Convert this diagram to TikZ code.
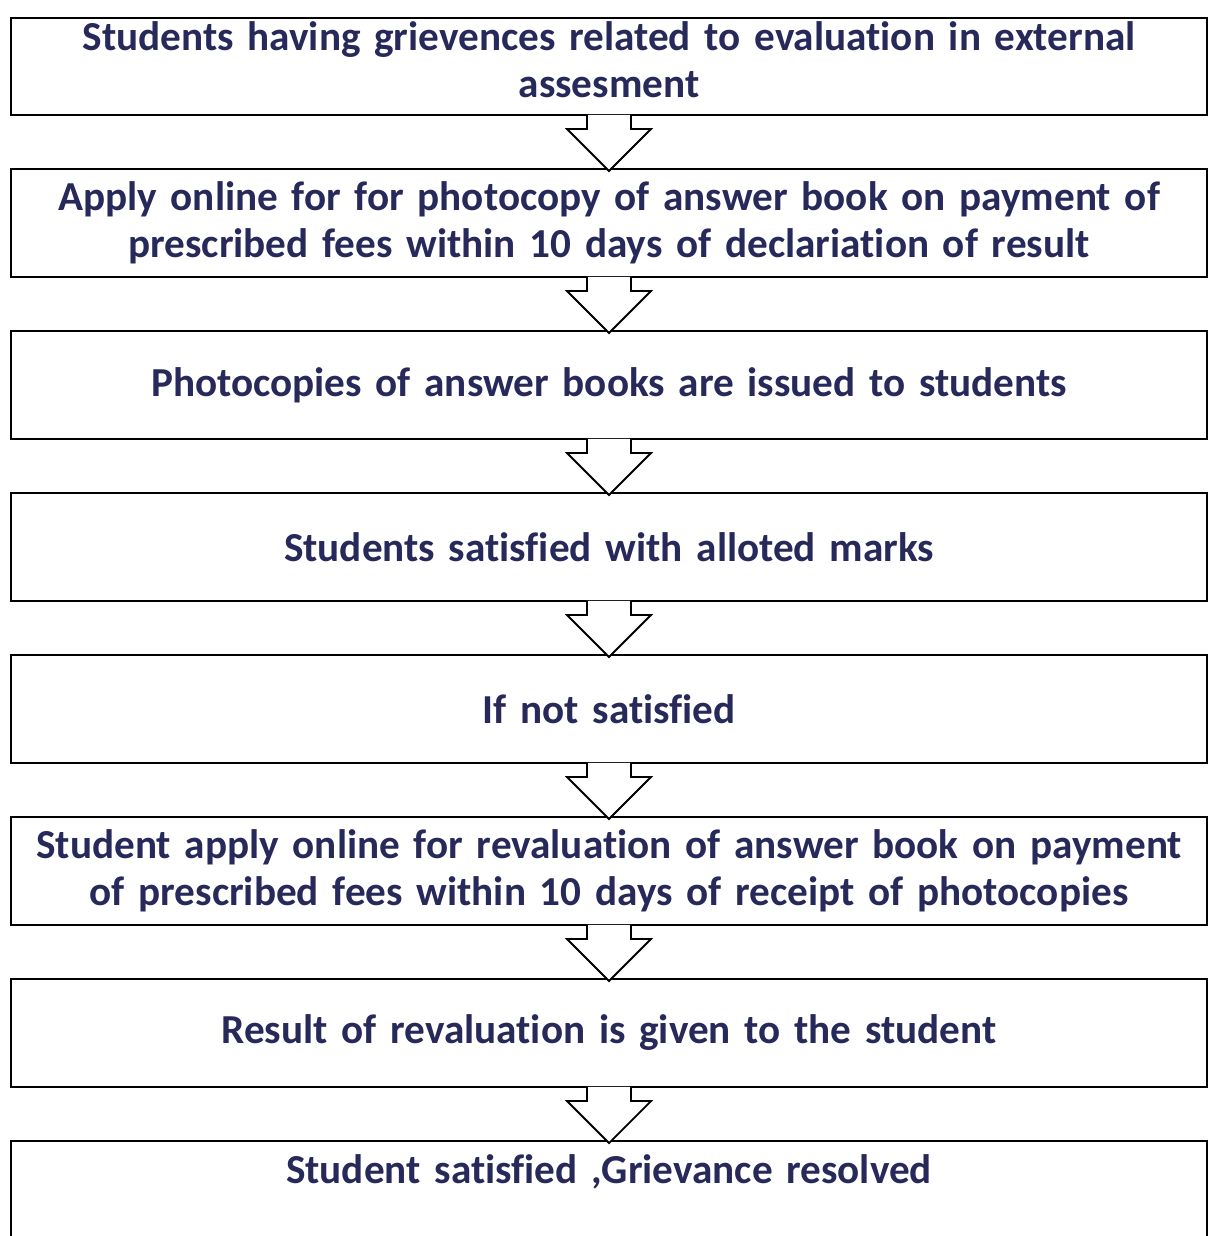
\documentclass[tikz,border=0pt]{standalone}
\usepackage{fontspec}
\setmainfont{Carlito}[Ligatures={NoCommon}]
\usetikzlibrary{positioning}
\definecolor{stagenavy}{RGB}{38,41,89}

\begin{document}
\begin{tikzpicture}[
    node distance=26pt,
    stage/.style={rectangle, draw=black, line width=1pt, minimum width=598pt, minimum height=54pt, text width=590pt, align=center, text=stagenavy, font=\fontsize{20.6pt}{23.5pt}\selectfont\bfseries},
    flow/.style={draw=black, line width=0.9pt, fill=white, line join=miter}
]
    \useasboundingbox (0,0) rectangle (604pt,-618pt);

    \node[stage, minimum height=48.5pt, inner ysep=0pt, text height=16.2pt, text depth=32.3pt, anchor=north west] (grievance) at (5pt,-8.5pt) {Students having grievences related to evaluation in external\\assesment};
    \node[stage, below=of grievance] (applycopy) {Apply online for for photocopy of answer book on payment of\\prescribed fees within 10 days of declariation of result};
    \node[stage, below=of applycopy] (issued) {Photocopies of answer books are issued to students};
    \node[stage, below=of issued] (satisfied) {Students satisfied with alloted marks};
    \node[stage, below=of satisfied] (notsat) {If not satisfied};
    \node[stage, below=of notsat] (reval) {Student apply online for revaluation of answer book on payment\\of prescribed fees within 10 days of receipt of photocopies};
    \node[stage, below=of reval] (result) {Result of revaluation is given to the student};
    \node[stage, below=of result, text depth=62pt, inner ysep=7pt] (resolved) {Student satisfied ,Grievance resolved};

    \foreach \from/\to in {grievance/applycopy, applycopy/issued, issued/satisfied, satisfied/notsat, notsat/reval, reval/result, result/resolved}
        \draw[flow] ([xshift=-11pt,yshift=0.6pt]\from.south) |- ([xshift=-21pt,yshift=19.5pt]\to.north)
            -- ([yshift=-1.5pt]\to.north) -- ++(21pt,21pt) -- ++(-10pt,0)
            |- ([xshift=11pt,yshift=0.6pt]\from.south);
\end{tikzpicture}
\end{document}
